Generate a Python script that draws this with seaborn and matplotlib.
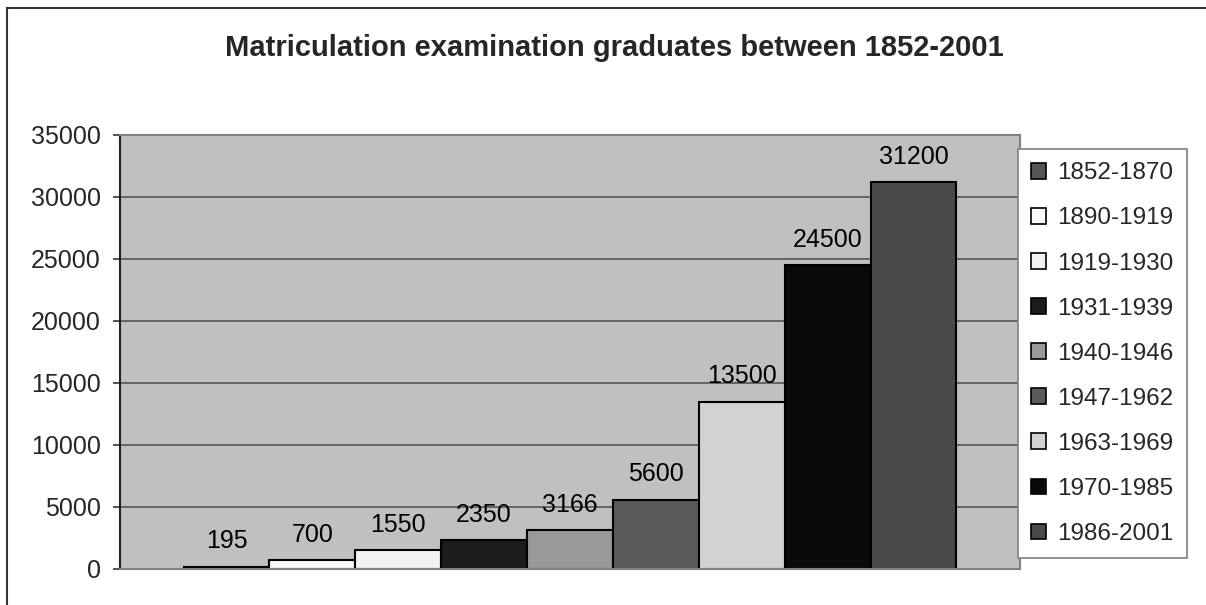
import matplotlib
matplotlib.use("Agg")
import matplotlib.pyplot as plt
from matplotlib.patches import Patch, Rectangle
import seaborn as sns

# data
periods = ["1852-1870", "1890-1919", "1919-1930", "1931-1939", "1940-1946",
           "1947-1962", "1963-1969", "1970-1985", "1986-2001"]
graduates = [195, 700, 1550, 2350, 3166, 5600, 13500, 24500, 31200]
bar_colors = ["#555555", "#FBFBFB", "#F2F2F2", "#1C1C1C", "#999999",
              "#5A5A5A", "#D2D2D2", "#0A0A0A", "#4A4A4A"]
y_ticks = [0, 5000, 10000, 15000, 20000, 25000, 30000, 35000]

sns.set_style("white")
plt.rcParams["font.family"] = ["Liberation Sans", "DejaVu Sans"]
FS = 18

fig = plt.figure(figsize=(12.06, 6.05), dpi=100)
ax = fig.add_axes([120 / 1206, 1 - 569 / 605, 900 / 1206, 434 / 605])
ax.set_facecolor("#C0C0C0")

palette = dict(zip(periods, bar_colors))
sns.barplot(x=periods, y=graduates, hue=periods, palette=palette, dodge=False,
            width=1.0, saturation=1, edgecolor="black", linewidth=1.5,
            legend=False, ax=ax)

for cont in ax.containers:
    ax.bar_label(cont, fmt="{:.0f}", padding=9.5, fontsize=FS, color="black")

ax.set_xlim(-1.24, 9.24)
ax.set_ylim(0, 35000)
ax.set_yticks(y_ticks)
ax.set_yticklabels([str(t) for t in y_ticks], fontsize=FS)
ax.set_xticks([])
ax.set_xlabel("")
ax.set_ylabel("")
ax.tick_params(axis="y", direction="out", length=5, width=1.2, color="#333333",
               pad=9, left=True)
ax.yaxis.grid(True, color="#555555", linewidth=1.2)
ax.set_axisbelow(True)

for side in ["top", "right", "bottom"]:
    ax.spines[side].set_color("#808080")
    ax.spines[side].set_linewidth(1.5)
ax.spines["left"].set_color("#222222")
ax.spines["left"].set_linewidth(1.5)

handles = [Patch(facecolor=c, edgecolor="black", linewidth=1.2) for c in bar_colors]
leg = fig.legend(handles, periods, loc="upper left",
                 bbox_to_anchor=(1018 / 1206, 1 - 149 / 605),
                 fontsize=17.5, frameon=True, fancybox=False, framealpha=1,
                 edgecolor="#808080", labelspacing=0.95, handlelength=0.62,
                 handleheight=0.62, handletextpad=0.45, borderpad=0.55,
                 borderaxespad=0)
leg.get_frame().set_linewidth(1.2)

fig.text(614 / 1206, 1 - 48 / 605,
         "Matriculation examination graduates between 1852-2001",
         ha="center", va="center", fontsize=21, fontweight="bold")

# outer chart border (top and left edges visible)
fig.patches.append(Rectangle((7 / 1206, -0.2), 1.2, 1.2 - 8 / 605, fill=False,
                             edgecolor="#333333", linewidth=1.5,
                             transform=fig.transFigure))

fig.savefig("out.png", dpi=100)
